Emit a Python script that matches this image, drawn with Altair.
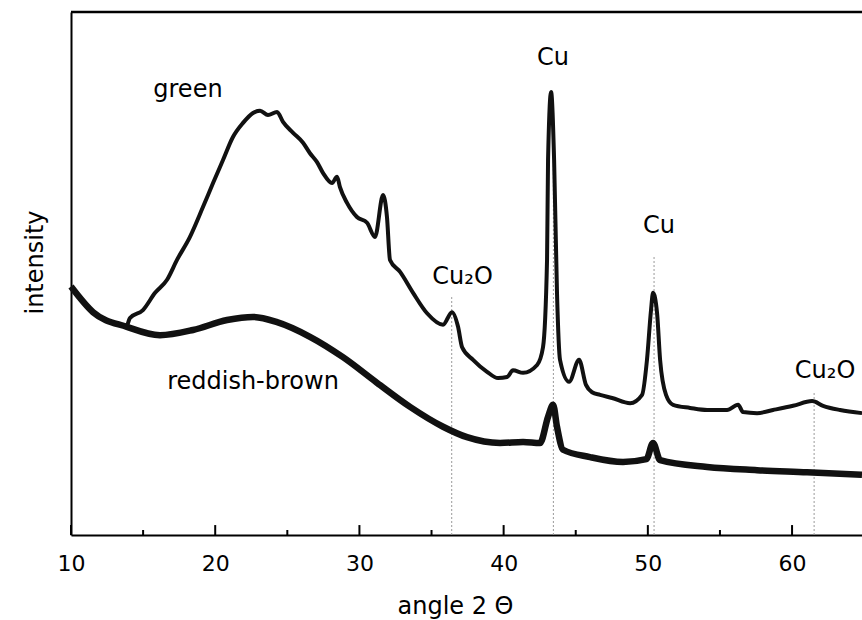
import altair as alt
import pandas as pd

# ---- data (arbitrary intensity units 0-100) ----
green_x = [13.9, 14.09, 14.99, 15.83, 16.66, 17.35, 18.25, 19.15, 19.85, 20.54,
           21.23, 21.93, 22.62, 23.11, 23.66, 24.29, 24.70, 25.40, 26.09, 26.57,
           27.06, 27.48, 28.10, 28.45, 28.65, 29.14, 29.83, 30.53, 31.08, 31.64,
           31.91, 32.12, 32.82, 33.72, 34.69, 35.80, 36.42, 36.84, 37.12, 37.88,
           38.85, 39.61, 40.24, 40.65, 41.35, 42.32, 42.73, 43.01, 43.08, 43.29,
           43.50, 43.70, 43.91, 44.54, 45.23, 45.71, 46.13, 46.69, 47.52, 48.77,
           49.60, 49.94, 50.22, 50.36, 50.64, 50.85, 51.26, 51.75, 52.93, 54.11,
           55.49, 56.26, 56.60, 57.57, 58.68, 60.07, 61.39, 62.15, 63.33, 64.85]
green_y = [40.0, 41.5, 43.0, 46.3, 48.8, 52.6, 57.0, 62.7, 67.3, 71.7,
           76.1, 78.8, 80.7, 81.1, 80.3, 80.9, 79.0, 76.9, 75.0, 73.0,
           71.3, 69.2, 67.3, 68.5, 66.5, 63.5, 60.8, 59.7, 57.0, 65.0,
           60.8, 52.6, 50.3, 46.3, 42.4, 40.2, 42.6, 39.8, 35.9, 33.5,
           31.2, 30.0, 30.2, 31.5, 31.0, 32.5, 35.9, 52.6, 71.7, 84.7,
           71.7, 46.3, 33.5, 29.3, 33.5, 28.7, 27.3, 26.8, 26.2, 25.2,
           26.8, 33.5, 43.0, 46.3, 42.4, 33.5, 26.8, 24.9, 24.3, 23.9,
           23.9, 24.9, 23.5, 23.3, 23.9, 24.7, 25.6, 24.7, 23.9, 23.3]

brown_x = [10.0, 11.53, 13.88, 16.17, 18.46, 20.82, 22.62, 24.29, 26.57, 28.86,
           31.22, 33.51, 35.80, 37.46, 39.75, 41.35, 42.52, 43.08, 43.43, 43.70,
           44.12, 45.99, 48.28, 49.90, 50.36, 50.85, 54.11, 57.57, 61.04, 64.85]
brown_y = [47.5, 42.6, 39.8, 38.2, 39.2, 41.1, 41.7, 40.7, 37.9, 34.0,
           29.1, 24.5, 20.7, 18.7, 17.6, 17.8, 17.6, 22.6, 24.9, 20.7,
           16.3, 14.9, 13.96, 14.5, 17.6, 14.3, 13.0, 12.4, 12.0, 11.5]

ref_x = [36.4, 43.45, 50.43, 61.53]
ref_top = [45.5, 83.0, 53.2, 27.5]

label_text = ["green", "Cu", "Cu", "Cu\u2082O", "Cu\u2082O", "reddish-brown"]
label_x = [18.11, 43.43, 50.78, 37.15, 62.29, 22.62]
label_y = [83.7, 89.9, 57.7, 48.0, 30.0, 27.9]

major_ticks = [10, 20, 30, 40, 50, 60]
minor_ticks = [15, 25, 35, 45, 55]

# ---- layout ----
W, H = 791, 523
FONT = "DejaVu Sans"
MAJOR_LEN = 1.9
MINOR_LEN = 0.96

xscale = alt.Scale(domain=[10, 64.85], nice=False, zero=False)
yscale = alt.Scale(domain=[0, 100], nice=False, zero=False)

x_axis = alt.Axis(values=major_ticks, title="angle 2 \u0398", grid=False, ticks=False,
                  tickSize=0, labelFont=FONT, labelFontSize=22, labelColor="black",
                  labelPadding=18, labelFlush=False, labelOverlap=False,
                  domainColor="black", domainWidth=2, format="d",
                  titleFont=FONT, titleFontSize=24, titleFontWeight="normal",
                  titleColor="black", titleX=384, titleY=78,
                  titleBaseline="alphabetic", titleAlign="center")
y_axis = alt.Axis(title="intensity", labels=False, ticks=False, grid=False,
                  domainColor="black", domainWidth=2,
                  titleFont=FONT, titleFontSize=24, titleFontWeight="normal",
                  titleColor="black", titleX=-29, titleY=250, titleAngle=270,
                  titleBaseline="alphabetic", titleAlign="center")

X = alt.X("angle:Q", scale=xscale, axis=x_axis)
Y = alt.Y("intensity:Q", scale=yscale, axis=y_axis)

green_df = pd.DataFrame({"angle": green_x, "intensity": green_y})
brown_df = pd.DataFrame({"angle": brown_x, "intensity": brown_y})
ref_df = pd.DataFrame({"angle": ref_x, "intensity": [0] * len(ref_x), "top": ref_top})
lab_df = pd.DataFrame({"angle": label_x, "intensity": label_y, "label": label_text})
tick_df = pd.DataFrame({
    "angle": major_ticks + minor_ticks,
    "intensity": [0] * (len(major_ticks) + len(minor_ticks)),
    "top": [MAJOR_LEN] * len(major_ticks) + [MINOR_LEN] * len(minor_ticks),
})

refs = alt.Chart(ref_df).mark_rule(color="#9a9a9a", strokeWidth=1, strokeDash=[2, 2]).encode(
    x=X, y=Y, y2="top:Q")
brown = alt.Chart(brown_df).mark_line(color="#111111", strokeWidth=6.5, interpolate="monotone").encode(
    x=X, y=Y)
green = alt.Chart(green_df).mark_line(color="#111111", strokeWidth=4, interpolate="monotone").encode(
    x=X, y=Y)
labels = alt.Chart(lab_df).mark_text(font=FONT, fontSize=24, color="black",
                                     align="center", baseline="alphabetic").encode(
    x=X, y=Y, text="label:N")
ticks = alt.Chart(tick_df).mark_rule(color="black", strokeWidth=2).encode(
    x=X, y=Y, y2="top:Q")
top_line = alt.Chart(pd.DataFrame({"a": [0]})).mark_rule(color="black", strokeWidth=2.5).encode(
    x=alt.value(0), x2=alt.value(W), y=alt.value(0))

chart = alt.layer(refs, brown, green, labels, ticks, top_line).properties(
    width=W, height=H,
    autosize=alt.AutoSizeParams(type="none"),
    padding={"left": 71, "top": 12, "right": 0, "bottom": 85},
    background="white",
).configure_view(stroke=None)

chart.save("out.html", embed_options={"renderer": "svg", "actions": False})
